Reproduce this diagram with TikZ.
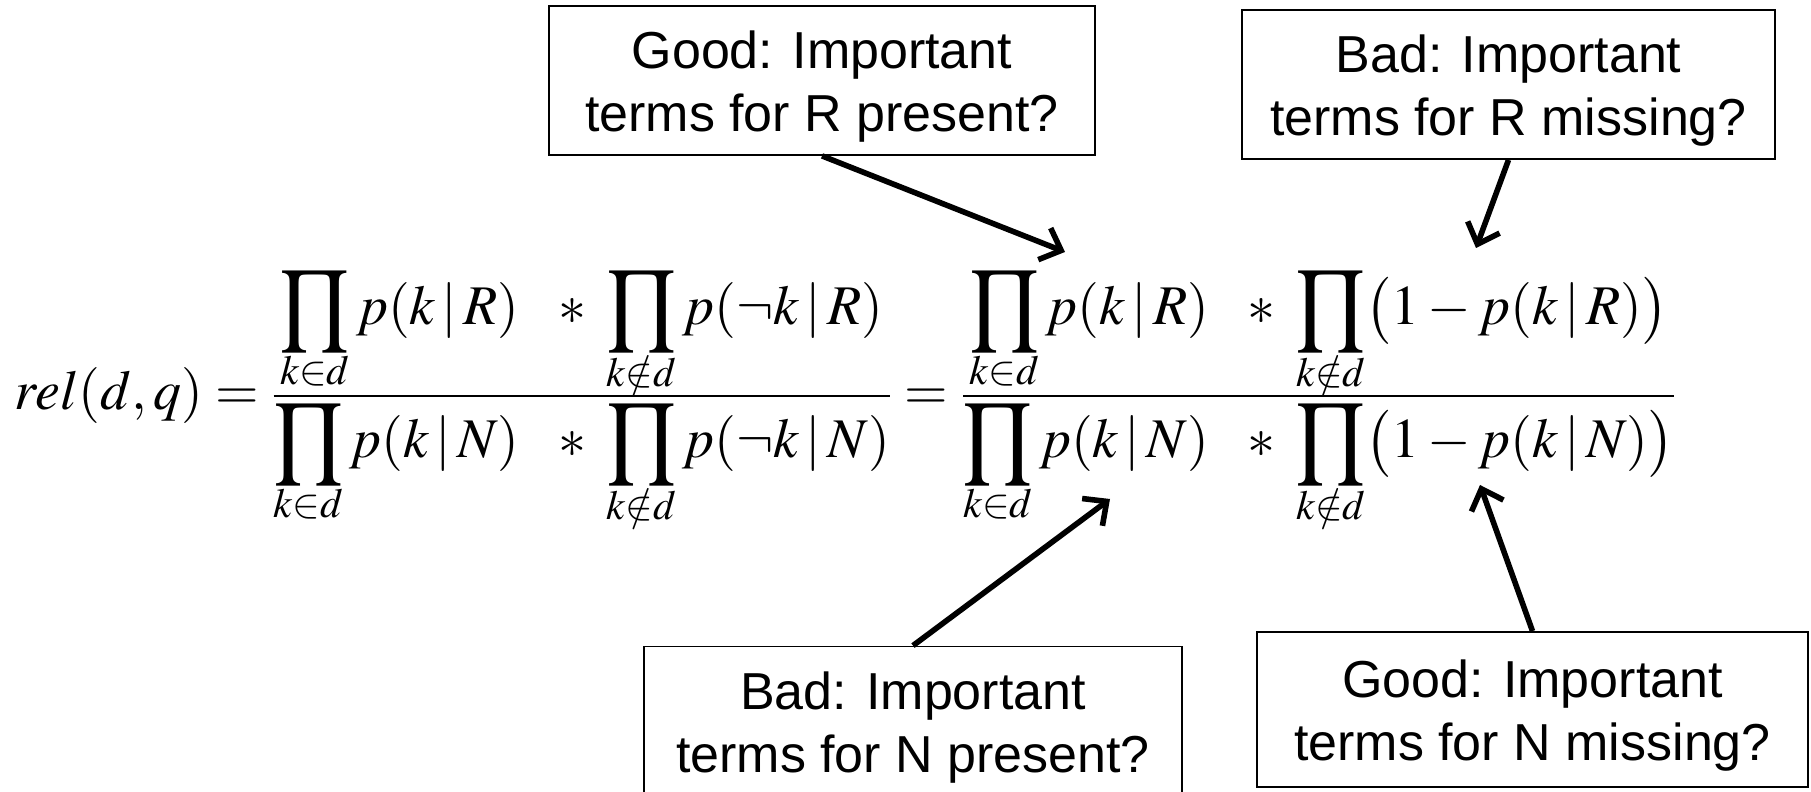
\documentclass[tikz,border=0pt]{standalone}
\usepackage{mathptmx}
\usepackage{graphicx}
\usepackage[no-math]{fontspec}
\usepackage{tikz}
\usetikzlibrary{positioning, arrows.meta}
\newfontfamily\notefont{Liberation Sans}
% big product with its index set close underneath
\newcommand{\bprod}[1]{\mathop{\vtop{\offinterlineskip\halign{\hfil##\hfil\cr
  $\vcenter{\hbox{\resizebox*{34pt}{40pt}{$\displaystyle\prod$}}}$\cr
  \noalign{\kern2.5pt}
  $\scriptstyle #1$\cr}}}}

\tikzset{
  notebox/.style={draw, line width=0.9pt, align=center, inner xsep=0pt,
    font=\notefont\fontsize{26}{31.5}\selectfont, minimum height=74.5pt},
  pointer/.style={line width=2.8pt, -{Straight Barb[length=9pt, width=17pt]}}
}

\begin{document}
\begin{tikzpicture}[x=0.5pt, y=0.5pt]
    \useasboundingbox (0,0) rectangle (1811,792);
    \node[anchor=base west, inner sep=0pt, font=\fontsize{28}{34}\selectfont] (rel) at (14,382) {%
      $\displaystyle rel(d,q)=
      \frac{\bprod{k\in d} p(k\,|\,R)\mkern10mu*\;\bprod{k\notin d} p(\neg k\,|\,R)}
           {\bprod{k\in d} p(k\,|\,N)\mkern10mu*\;\bprod{k\notin d} p(\neg k\,|\,N)}
      =\frac{\bprod{k\in d} p(k\,|\,R)\mkern10mu*\;\bprod{k\notin d}\bigl(1-p(k\,|\,R)\bigr)}
            {\bprod{k\in d} p(k\,|\,N)\mkern10mu*\;\bprod{k\notin d}\bigl(1-p(k\,|\,N)\bigr)}$};

    \node[notebox, minimum width=273pt] (goodR) at (822,711.5) {\rule{0pt}{25pt}Good: Important\\terms for R present?};
    \node[notebox, minimum width=266.5pt] (badR) at (1508.5,707.5) {\rule{0pt}{25pt}Bad: Important\\terms for R missing?};
    \node[notebox, minimum width=269pt] (badN) at (913,71) {\rule{0pt}{25pt}Bad: Important\\terms for N present?};
    \node[notebox, minimum width=275.5pt, minimum height=77.5pt] (goodN) at (1532.5,82.5) {\rule{0pt}{25pt}Good: Important\\terms for N missing?};

    \coordinate (numL) at (1065,540);
    \coordinate (numR) at (1476,544);
    \coordinate (denL) at (1110,293);
    \coordinate (denR) at (1480,307);

    \draw[pointer] (goodR.south) -- (numL);
    \draw[pointer] (badR.south) -- (numR);
    \draw[pointer] (badN.north) -- (denL);
    \draw[pointer] (goodN.north) -- (denR);
\end{tikzpicture}
\end{document}
